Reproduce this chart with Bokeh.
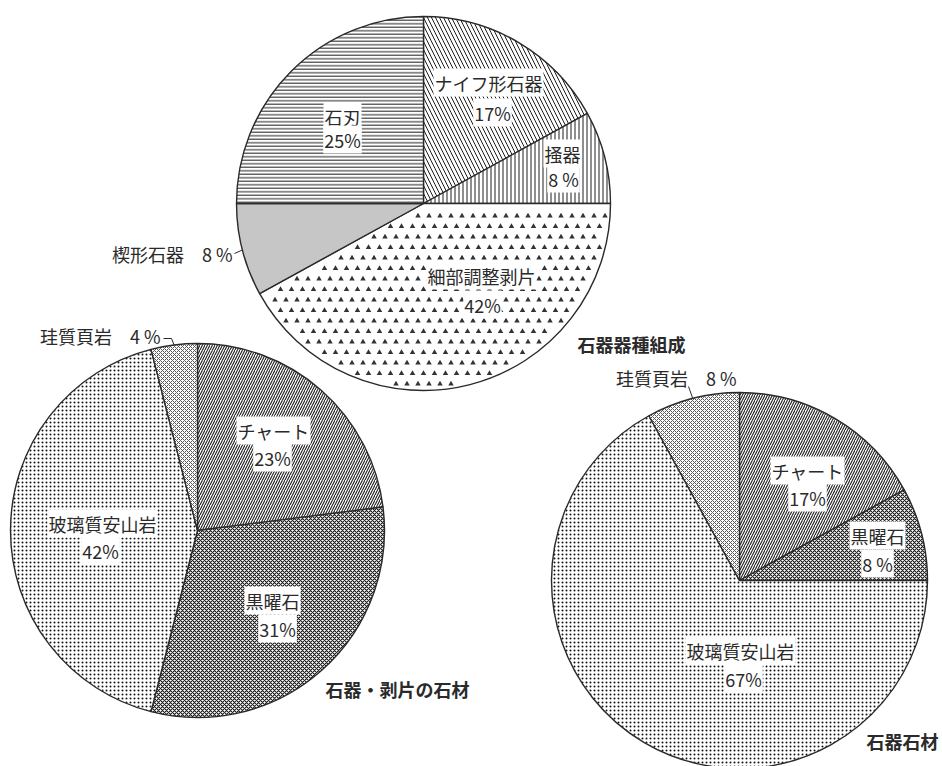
import math
from bokeh.plotting import figure
from bokeh.models import Range1d
from bokeh.core.properties import value
from bokeh.embed import file_html
from bokeh.resources import INLINE

# ---------------- data ----------------
tool_types = ["ナイフ形石器", "掻器", "細部調整剥片", "楔形石器", "石刃"]
tool_pct = [17, 8, 42, 8, 25]

flake_materials = ["チャート", "黒曜石", "玻璃質安山岩", "珪質頁岩"]
flake_pct = [23, 31, 42, 4]

tool_materials = ["チャート", "黒曜石", "玻璃質安山岩", "珪質頁岩"]
tool_mat_pct = [17, 8, 67, 8]

titles = ["石器器種組成", "石器・剥片の石材", "石器石材"]

# ---------------- styles / layout ----------------
FONT = "Noto Sans CJK JP"
INK = "#2a2a2a"
W, H = 942, 766


def Y(yimg):
    return H - yimg


S_KNIFE = dict(hatch_pattern="\\", hatch_scale=8, hatch_weight=1.0)
S_SCRAPER = dict(hatch_pattern="|", hatch_scale=4, hatch_weight=1.0)
S_RETOUCH = dict(hatch_pattern=None, triangles=True)
S_WEDGE = dict(fill_color="#c6c6c6", hatch_pattern=None)
S_BLADE = dict(hatch_pattern="-", hatch_scale=3.5, hatch_weight=1.0)
S_CHERT = dict(hatch_pattern="/", hatch_scale=5, hatch_weight=1.1)
S_OBS = dict(hatch_pattern="x", hatch_scale=4, hatch_weight=1.1, hatch_color="#1a1a1a")
S_AND = dict(hatch_pattern=".", hatch_scale=4, hatch_weight=1.0, hatch_color="#111111")
S_SHALE = dict(hatch_pattern="x", hatch_scale=4, hatch_weight=1.0, hatch_color="#5a5a5a")

pies = [
    dict(cx=423, cy=203, r=187, names=tool_types, vals=tool_pct,
         styles=[S_KNIFE, S_SCRAPER, S_RETOUCH, S_WEDGE, S_BLADE],
         inside={0: ((488, 82), (492, 112)), 1: ((562, 153), (563, 178)),
                 2: ((481, 275), (482, 304)), 4: ((342, 116), (342, 139))},
         outside={3: dict(x=232, y=253, align="right", path=[(234, 253)])}),
    dict(cx=197, cy=530, r=187, names=flake_materials, vals=flake_pct,
         styles=[S_CHERT, S_OBS, S_AND, S_SHALE],
         inside={0: ((273, 430), (272, 457)), 1: ((272, 600), (277, 628)),
                 2: ((102, 523), (100, 550))},
         outside={3: dict(x=160, y=335, align="right", path=[(163, 338), (171, 338)])}),
    dict(cx=739, cy=580, r=188, names=tool_materials, vals=tool_mat_pct,
         styles=[S_CHERT, S_OBS, S_AND, S_SHALE],
         inside={0: ((807, 470), (807, 497)), 1: ((877, 535), (877, 563)),
                 2: ((740, 650), (743, 678))},
         outside={3: dict(x=736, y=377, align="right", path=[(688, 386)])}),
]

title_pos = [(577, 343), (325, 688), (866, 740)]

# triangle texture lattice (screen px)
TRI_DX, TRI_DY = 11.0, 10.5

# ---------------- figure ----------------
p = figure(width=W, height=H, output_backend="svg", toolbar_location=None,
           x_range=Range1d(0, W), y_range=Range1d(0, H),
           x_axis_location=None, y_axis_location=None, min_border=0,
           background_fill_color="white", border_fill_color="white")
p.grid.visible = False
p.outline_line_color = None


def pct_text(v):
    return f"{v}%" if v >= 10 else f"{v} %"


def lattice_in_wedge(cx, cy, r, c0, c1):
    xs, ys = [], []
    t0, t1 = 2 * math.pi * c0, 2 * math.pi * c1
    row = 0
    yy = cy - r
    while yy <= cy + r:
        off = (TRI_DX / 2) if row % 2 else 0.0
        xx = cx - r + off
        while xx <= cx + r:
            dx, dy = xx - cx, yy - cy
            d = math.hypot(dx, dy)
            if 6 < d < r - 4:
                th = math.atan2(dx, -dy) % (2 * math.pi)
                marg = 4.0 / d
                if t0 + marg < th < t1 - marg:
                    xs.append(xx)
                    ys.append(Y(yy))
            xx += TRI_DX
        yy += TRI_DY
        row += 1
    return xs, ys


text_calls = []
for pie in pies:
    cx, cy, r = pie["cx"], pie["cy"], pie["r"]
    total = float(sum(pie["vals"]))
    cum = 0.0
    for i, (name, v) in enumerate(zip(pie["names"], pie["vals"])):
        c0 = cum / total
        cum += v
        c1 = cum / total
        a0 = math.pi / 2 - 2 * math.pi * c0
        a1 = math.pi / 2 - 2 * math.pi * c1
        st = dict(fill_color="white", hatch_color="#1e1e1e")
        st.update(pie["styles"][i])
        tri = st.pop("triangles", False)
        p.wedge(x=[cx], y=[Y(cy)], radius=r, start_angle=a0, end_angle=a1,
                direction="clock", line_color=INK, line_width=1.4, **st)
        if tri:
            tx_, ty_ = lattice_in_wedge(cx, cy, r, c0, c1)
            p.scatter(x=tx_, y=ty_, marker="triangle", size=5.5,
                      fill_color="#333333", line_color=None)
        if i in pie["inside"]:
            (nx, ny), (px_, py_) = pie["inside"][i]
            text_calls.append(((nx, ny, name), (px_, py_, pct_text(v))))
        if i in pie["outside"]:
            o = pie["outside"][i]
            am = math.pi / 2 - 2 * math.pi * (c0 + c1) / 2
            ex = cx + r * math.cos(am)
            ey = cy - r * math.sin(am)
            pts = o["path"] + [(ex, ey)]
            p.line(x=[q[0] for q in pts], y=[Y(q[1]) for q in pts],
                   line_color=INK, line_width=1.0)
            p.text(x=[o["x"]], y=[Y(o["y"])], text=[f"{name}\u3000{pct_text(v)}"],
                   text_font=value(FONT), text_font_size="18px", text_color=INK,
                   text_align=o["align"], text_baseline="middle")

for pair in text_calls:
    for (tx, ty, t) in pair:
        p.text(x=[tx], y=[Y(ty)], text=[t], text_font=value(FONT),
               text_font_size="18px", text_color=INK,
               text_align="center", text_baseline="middle",
               background_fill_color="white", padding=1)

for t, (tx, ty) in zip(titles, title_pos):
    p.text(x=[tx], y=[Y(ty)], text=[t], text_font=value(FONT),
           text_font_size="18px", text_font_style="bold", text_color=INK,
           text_align="left", text_baseline="middle")

open("out.html", "w").write(file_html(p, INLINE))
